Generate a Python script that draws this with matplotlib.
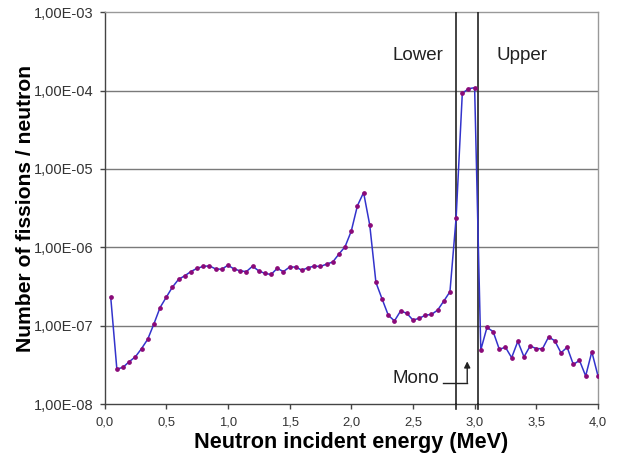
import matplotlib
matplotlib.use("Agg")
import matplotlib.pyplot as plt
from matplotlib.ticker import FixedLocator, FuncFormatter, NullLocator

plt.rcParams['font.family'] = ['Liberation Sans', 'DejaVu Sans']

energy = [0.05, 0.10, 0.15, 0.20, 0.25, 0.30, 0.35, 0.40, 0.45, 0.50,
          0.55, 0.60, 0.65, 0.70, 0.75, 0.80, 0.85, 0.90, 0.95, 1.00,
          1.05, 1.10, 1.15, 1.20, 1.25, 1.30, 1.35, 1.40, 1.45, 1.50,
          1.55, 1.60, 1.65, 1.70, 1.75, 1.80, 1.85, 1.90, 1.95, 2.00,
          2.05, 2.10, 2.15, 2.20, 2.25, 2.30, 2.35, 2.40, 2.45, 2.50,
          2.55, 2.60, 2.65, 2.70, 2.75, 2.80, 2.85, 2.90, 2.95, 3.00,
          3.05, 3.10, 3.15, 3.20, 3.25, 3.30, 3.35, 3.40, 3.45, 3.50,
          3.55, 3.60, 3.65, 3.70, 3.75, 3.80, 3.85, 3.90, 3.95, 4.00]
fissions = [2.34e-7, 2.79e-8, 2.94e-8, 3.47e-8, 4.0e-8, 5.1e-8, 6.7e-8, 1.05e-7, 1.7e-7, 2.3e-7,
            3.1e-7, 3.9e-7, 4.33e-7, 4.9e-7, 5.4e-7, 5.7e-7, 5.8e-7, 5.3e-7, 5.25e-7, 5.9e-7,
            5.3e-7, 5.0e-7, 4.9e-7, 5.75e-7, 5.0e-7, 4.65e-7, 4.5e-7, 5.4e-7, 4.9e-7, 5.6e-7,
            5.6e-7, 5.1e-7, 5.5e-7, 5.75e-7, 5.7e-7, 6.1e-7, 6.5e-7, 8.2e-7, 1.02e-6, 1.61e-6,
            3.4e-6, 5.0e-6, 1.92e-6, 3.56e-7, 2.19e-7, 1.36e-7, 1.15e-7, 1.54e-7, 1.44e-7, 1.18e-7,
            1.24e-7, 1.36e-7, 1.39e-7, 1.58e-7, 2.06e-7, 2.71e-7, 2.38e-6, 9.2e-5, 1.06e-4, 1.09e-4,
            4.9e-8, 9.5e-8, 8.4e-8, 5.0e-8, 5.3e-8, 3.9e-8, 6.3e-8, 4.0e-8, 5.5e-8, 5.1e-8,
            5.07e-8, 7.2e-8, 6.4e-8, 4.5e-8, 5.3e-8, 3.2e-8, 3.6e-8, 2.28e-8, 4.64e-8, 2.28e-8]

x_ticks = [0.0, 0.5, 1.0, 1.5, 2.0, 2.5, 3.0, 3.5, 4.0]
y_ticks = [1e-8, 1e-7, 1e-6, 1e-5, 1e-4, 1e-3]
window_edges = [2.85, 3.03]

fig = plt.figure(figsize=(6.17, 4.59), dpi=100)
ax = fig.add_axes([0.1694, 0.1198, 0.7998, 0.8534])

ax.set_yscale('log')
ax.set_xlim(0, 4.0)
ax.set_ylim(1e-8, 1e-3)

for yv in y_ticks[1:-1]:
    ax.axhline(yv, color='#7a7a7a', lw=1.0, zorder=1)

for xv in window_edges:
    ax.axvline(xv, color='#222222', lw=1.2, zorder=3)
    ax.plot([xv, xv], [1e-8, 10**-8.06], color='#222222', lw=1.2, clip_on=False, zorder=3)

ax.plot(energy, fissions, color='#3333cc', lw=1.1, zorder=4,
        marker='o', markersize=2.4, markerfacecolor='#8a0a78', markeredgecolor='#8a0a78')

ax.xaxis.set_major_locator(FixedLocator(x_ticks))
ax.yaxis.set_major_locator(FixedLocator(y_ticks))
ax.yaxis.set_minor_locator(NullLocator())
ax.xaxis.set_major_formatter(FuncFormatter(lambda v, p: f"{v:.1f}".replace('.', ',')))
ax.yaxis.set_major_formatter(FuncFormatter(lambda v, p: f"{v:.2E}".replace('.', ',')))

ax.tick_params(axis='both', direction='out', length=3.5, width=1, colors='#444444',
               labelcolor='#333333')
ax.tick_params(axis='y', labelsize=10.5, pad=4.5)
ax.tick_params(axis='x', labelsize=9.4, pad=5.2)

for s in ['left', 'bottom']:
    ax.spines[s].set_color('#444444')
    ax.spines[s].set_linewidth(1.0)
for s in ['top', 'right']:
    ax.spines[s].set_color('#999999')
    ax.spines[s].set_linewidth(1.0)

ax.set_xlabel('Neutron incident energy (MeV)', fontsize=15.6, fontweight='bold', labelpad=3)
ax.set_ylabel('Number of fissions / neutron', fontsize=15.2, fontweight='bold', labelpad=-1)

ax.text(2.54, 2.85e-4, 'Lower', ha='center', va='center', fontsize=13.5, color='#222222')
ax.text(3.38, 2.85e-4, 'Upper', ha='center', va='center', fontsize=13.5, color='#222222')
ax.text(2.71, 2.09e-8, 'Mono', ha='right', va='center', fontsize=13.5, color='#222222')
ax.plot([2.74, 2.94], [1.88e-8, 1.88e-8], color='#222222', lw=1.0, zorder=5)
ax.annotate('', xy=(2.94, 3.5e-8), xytext=(2.94, 1.88e-8),
            arrowprops=dict(arrowstyle='-|>', color='#222222', lw=1.0,
                            mutation_scale=9, shrinkA=0, shrinkB=0), zorder=5)

fig.savefig('out.png', dpi=100)
